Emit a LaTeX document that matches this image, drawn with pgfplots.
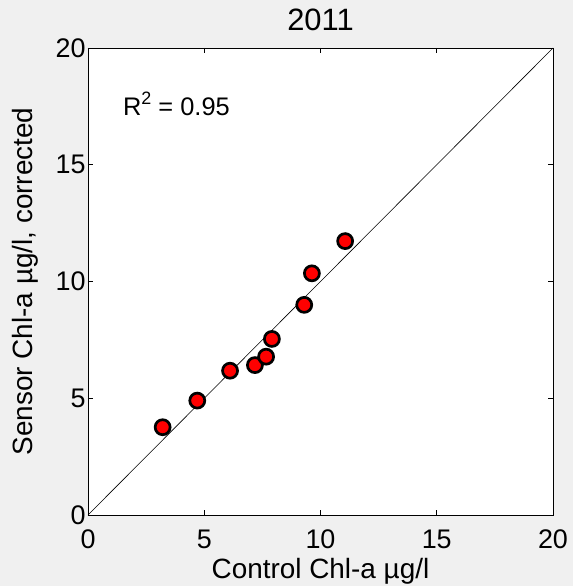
\documentclass[border=0pt]{standalone}
\usepackage{pgfplots}
\pgfplotsset{compat=1.18}
\usepackage{fontspec}
\setmainfont{Liberation Sans}
\definecolor{bgc}{HTML}{F0F0F0}
\begin{document}
\begin{tikzpicture}
\fill[bgc] (-88bp,-71bp) rectangle (485bp,515bp);
\begin{axis}[
  scale only axis,
  width=465bp, height=467bp,
  xmin=0, xmax=20, ymin=0, ymax=20,
  xtick={0,5,10,15,20}, ytick={0,5,10,15,20},
  tick align=inside,
  major tick length=5bp,
  tick style={black, line width=0.6bp},
  axis line style={black, line width=0.8bp},
  axis background/.style={fill=white},
  /pgf/number format/assume math mode=true,
  ticklabel style={font=\fontsize{27}{30}\selectfont},
  xticklabel style={anchor=base, yshift=-33bp},
  yticklabel style={anchor=east, xshift=1bp},
  title style={font=\fontsize{31}{34}\selectfont, at={(axis description cs:0.5,1.0236)}, anchor=base},
  title={2011},
  xlabel={Control Chl-a µg/l},
  ylabel={Sensor Chl-a µg/l, corrected},
  xlabel style={font=\fontsize{28}{30}\selectfont, at={(axis description cs:0.5,-0.1370)}, anchor=base},
  ylabel style={font=\fontsize{28}{30}\selectfont, at={(axis description cs:-0.1183,0.5)}, anchor=base},
  clip=false,
]
\addplot[black, line width=0.6bp, forget plot] coordinates {(0,0) (20,20)};
\addplot[only marks, mark=*, mark size=7.5bp, mark options={fill=red, draw=black, line width=2.7bp}] coordinates {
(3.21,3.76)
(4.70,4.90)
(6.11,6.18)
(7.18,6.42)
(7.66,6.78)
(7.91,7.54)
(9.30,9.00)
(9.63,10.35)
(11.06,11.73)
};
\node[anchor=west, font=\fontsize{25.5}{28}\selectfont, inner sep=0pt] at (axis cs:1.5,17.6) {R\raisebox{0.45em}{\fontsize{18}{20}\selectfont 2} = 0.95};
\end{axis}
\pgfresetboundingbox
\path[use as bounding box] (-88bp,-71bp) rectangle (485bp,515bp);
\end{tikzpicture}
\end{document}
